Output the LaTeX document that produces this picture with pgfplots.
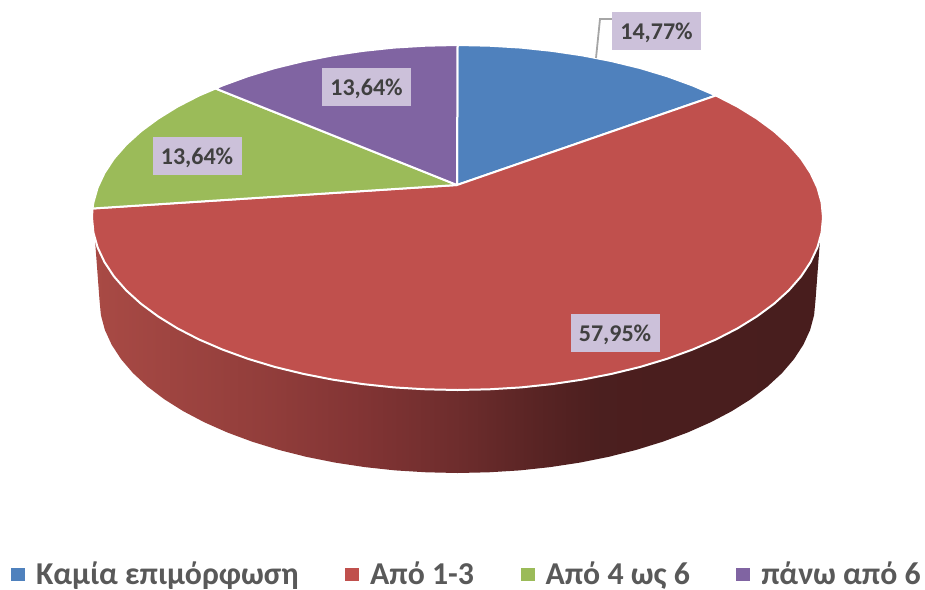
\documentclass[border=0pt]{standalone}
\usepackage{fontspec}
\setmainfont{Carlito}
\usepackage{pgfplots}
\pgfplotsset{compat=1.18}
\definecolor{cblue}{HTML}{4F81BD}
\definecolor{cred}{HTML}{C0504D}
\definecolor{cgreen}{HTML}{9BBB59}
\definecolor{cpurple}{HTML}{8064A2}
\definecolor{lbox}{HTML}{CCC1DA}
\definecolor{ltext}{HTML}{404040}
\definecolor{legtext}{HTML}{595959}
\pgfdeclarehorizontalshading{pieside}{100bp}{
 rgb(0bp)=(0.66,0.29,0.27);
 rgb(25bp)=(0.66,0.29,0.27);
 rgb(37bp)=(0.57,0.24,0.23);
 rgb(43.3bp)=(0.51,0.205,0.205);
 rgb(50bp)=(0.43,0.175,0.175);
 rgb(55.7bp)=(0.345,0.14,0.14);
 rgb(59.8bp)=(0.295,0.12,0.12);
 rgb(75bp)=(0.28,0.115,0.115);
 rgb(100bp)=(0.28,0.115,0.115)}
\begin{document}
\begin{tikzpicture}[x=1pt,y=1pt]
\path[use as bounding box] (0,0) rectangle (925,589);
\begin{axis}[
  at={(0,0)}, anchor=south west,
  scale only axis, width=925pt, height=589pt,
  xmin=0, xmax=925, ymin=0, ymax=589, y dir=reverse,
  hide axis, clip=false,
  legend columns=4,
  legend cell align=left,
  legend style={at={(axis cs:11,574)}, anchor=west, draw=none, fill=none,
    inner sep=0pt, outer sep=0pt,
    font=\fontsize{31.8}{36}\selectfont\bfseries\color{legtext},
    /tikz/every odd column/.style={column sep=9pt},
    /tikz/every even column/.style={column sep=44.5pt}},
  legend image code/.code={\fill[#1,draw=none] (0pt,-6.5pt) rectangle (14pt,6.5pt);},
  wedge/.style={line width=2pt, draw=white, line join=round},
]
% side wall
\addplot[forget plot, draw=none, shading=pieside] coordinates {
 (95,240)(99.5,300)(100.9,315.1)(104.9,330)(111.7,344.8)(121.1,359.2)(133,373.1)(147.5,386.5)
 (164.2,399.2)(183.3,411.2)(204.4,422.3)(227.4,432.5)(252.2,441.7)
 (278.5,449.8)(306.2,456.8)(335.1,462.6)(364.8,467.1)(395.3,470.4)(426.3,472.3)(457.5,473)
 (488.7,472.3)(519.7,470.4)(550.2,467.1)(579.9,462.6)(608.8,456.8)
 (636.5,449.8)(662.8,441.7)(687.6,432.5)(710.6,422.3)(731.7,411.2)(750.8,399.2)(767.5,386.5)
 (782,373.1)(793.9,359.2)(803.3,344.8)(810.1,330)(814.1,315.1)
 (815.5,300)(820,240)(95,240)};
% Καμία επιμόρφωση 14,77
\addplot[wedge, fill=cblue] coordinates {
 (457,185)(457.5,45.0)(489.4,45.7)(521.0,47.6)(552.1,50.9)(582.5,55.4)(612.0,61.2)
 (640.3,68.1)(667.1,76.2)(692.4,85.4)(715.9,95.5)(457,185)};
\addlegendentry{Καμία επιμόρφωση}
% Από 1-3 57,95
\addplot[wedge, fill=cred] coordinates {
 (457,185)(715.9,95.5)(737.5,106.6)(756.9,118.6)(774.0,131.2)(788.8,144.6)(801.0,158.5)
 (810.5,172.9)(817.4,187.6)(821.6,202.5)(823.0,217.5)(821.6,232.5)(817.4,247.4)
 (810.5,262.1)(801.0,276.5)(788.8,290.4)(774.0,303.8)(756.9,316.4)(737.5,328.4)
 (715.9,339.5)(692.4,349.6)(667.1,358.8)(640.3,366.9)(612.0,373.8)(582.5,379.6)
 (552.1,384.1)(521.0,387.4)(489.4,389.3)(457.5,390.0)(425.6,389.3)(394.0,387.4)
 (362.9,384.1)(332.5,379.6)(303.0,373.8)(274.7,366.9)(247.9,358.8)(222.6,349.6)
 (199.1,339.5)(177.5,328.4)(158.1,316.4)(141.0,303.8)(126.2,290.4)(114.0,276.5)
 (104.5,262.1)(97.6,247.4)(93.4,232.5)(92.0,217.5)(92.5,208.5)(457,185)};
\addlegendentry{Από 1-3}
% Από 4 ως 6 13,64
\addplot[wedge, fill=cgreen] coordinates {
 (457,185)(92.5,208.5)(93.4,202.5)(97.6,187.6)(104.5,172.9)(114.0,158.5)(126.2,144.6)
 (141.0,131.2)(158.1,118.6)(177.5,106.6)(199.1,95.5)(215.5,88.5)(457,185)};
\addlegendentry{Από 4 ως 6}
% πάνω από 6 13,64
\addplot[wedge, fill=cpurple] coordinates {
 (457,185)(215.5,88.5)(222.6,85.4)(247.9,76.2)(274.7,68.1)(303.0,61.2)(332.5,55.4)
 (362.9,50.9)(394.0,47.6)(425.6,45.7)(457.5,45.0)(457,185)};
\addlegendentry{πάνω από 6}
% leader line
\addplot[forget plot, color=black!35, line width=1.8pt] coordinates {(596,58)(600,19)(612,19)};
\begin{scope}[every node/.style={fill=lbox, text=ltext, inner sep=0pt, minimum width=89pt, minimum height=38pt,
    text height=18pt, text depth=0.5pt,
    font=\fontsize{24}{28}\selectfont\bfseries}]
\node at (axis cs:656.5,31) {14,77\%};
\node at (axis cs:366.5,87) {13,64\%};
\node at (axis cs:197,156) {13,64\%};
\node at (axis cs:615,333) {57,95\%};
\end{scope}
\end{axis}
\end{tikzpicture}
\end{document}
